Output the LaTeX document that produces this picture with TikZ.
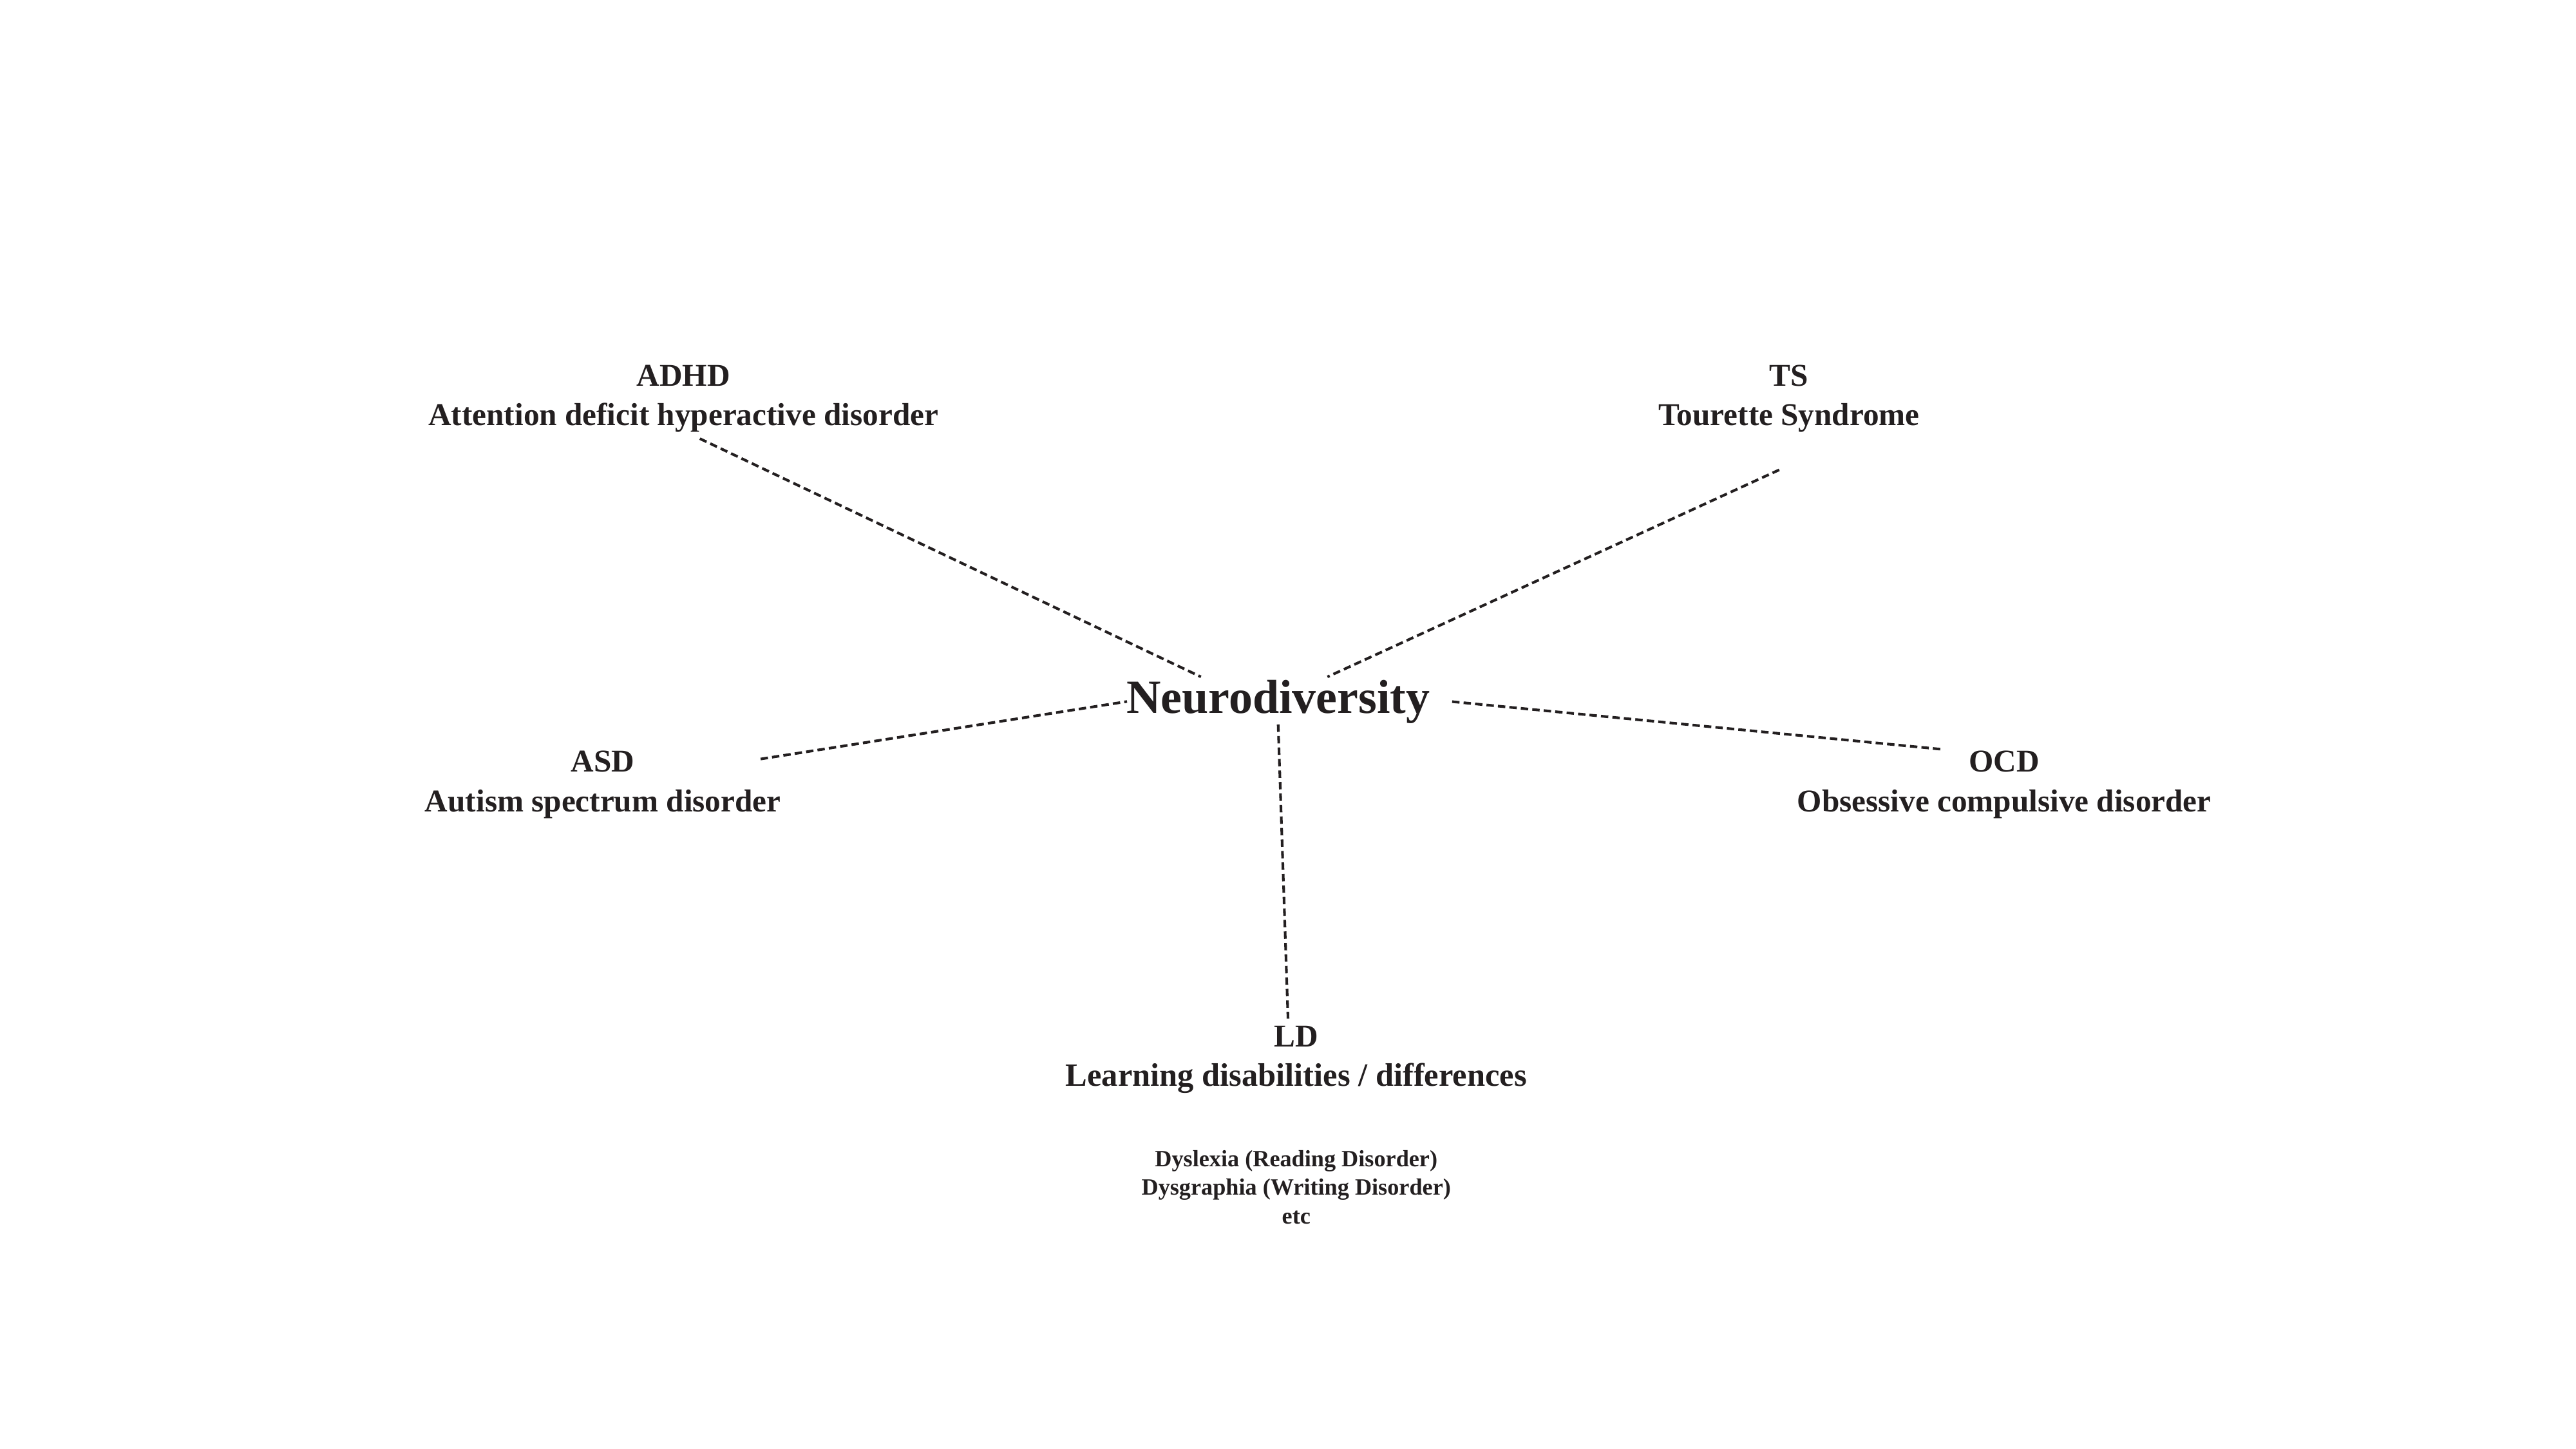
\documentclass[tikz,border=0pt]{standalone}
\usepackage{fontspec}
\setmainfont{Liberation Serif}
\definecolor{ink}{HTML}{231F20}
\begin{document}
\begin{tikzpicture}[x=1pt,y=-1pt,
  lbl/.style={anchor=base,inner sep=0pt,text=ink,font=\fontsize{19.3}{21}\selectfont\bfseries},
  big/.style={anchor=base,inner sep=0pt,text=ink,font=\fontsize{29}{31}\selectfont\bfseries},
  small/.style={anchor=base,inner sep=0pt,text=ink,font=\fontsize{14.2}{16}\selectfont\bfseries},
  link/.style={draw=ink,line width=1.6pt,dash pattern=on 4.5pt off 2.5pt}]
\path[use as bounding box,fill=white] (0,0) rectangle (1568,882);
\node[big] (nd) at (778,434) {Neurodiversity};
\node[lbl] (adhd) at (416,235) {ADHD};
\node[lbl] (adhdf) at (416,259) {Attention deficit hyperactive disorder};
\node[lbl] (ts) at (1089,235) {TS};
\node[lbl] (tsf) at (1089,259) {Tourette Syndrome};
\node[lbl] (asd) at (367,470) {ASD};
\node[lbl] (asdf) at (367,494) {Autism spectrum disorder};
\node[lbl] (ocd) at (1220,470) {OCD};
\node[lbl] (ocdf) at (1220,494) {Obsessive compulsive disorder};
\node[lbl] (ld) at (789,637) {LD};
\node[lbl,font=\fontsize{19.8}{21}\selectfont\bfseries] (ldf) at (789,661) {Learning disabilities / differences};
\node[small] (ex1) at (789,710) {Dyslexia (Reading Disorder)};
\node[small] (ex2) at (789,727.5) {Dysgraphia (Writing Disorder)};
\node[small] (ex3) at (789,745) {etc};
\coordinate (c-adhd) at (426,267);
\coordinate (n-adhd) at (731,412);
\coordinate (c-ts) at (1083,286);
\coordinate (n-ts) at (808,412);
\coordinate (c-asd) at (463,462);
\coordinate (n-asd) at (686,427);
\coordinate (c-ocd) at (1181,456);
\coordinate (n-ocd) at (883,427);
\coordinate (c-ld) at (784,620);
\coordinate (n-ld) at (778,441);
\draw[link] (c-adhd) -- (n-adhd);
\draw[link] (c-ts) -- (n-ts);
\draw[link] (c-asd) -- (n-asd);
\draw[link] (c-ocd) -- (n-ocd);
\draw[link] (n-ld) -- (c-ld);
\end{tikzpicture}
\end{document}
